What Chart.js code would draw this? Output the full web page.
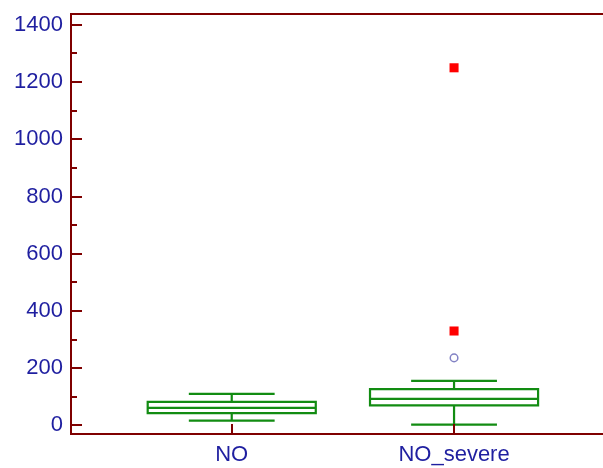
<!DOCTYPE html>
<html>
<head>
<meta charset="utf-8">
<script src="https://cdn.jsdelivr.net/npm/chart.js@4/dist/chart.umd.min.js"></script>
<style>
  html, body { margin: 0; padding: 0; background: #ffffff; overflow: hidden; }
  #wrap { width: 603px; height: 468px; }
</style>
</head>
<body>
<div id="wrap"><canvas id="c" width="603" height="468"></canvas></div>
<script>
// Groups and their box-and-whisker summaries
const categories = ['NO', 'NO_severe'];
const lowerWhisker = [17, 3];
const q1 = [43, 70];
const median = [61, 93];
const q3 = [82, 127];
const upperWhisker = [110, 156];
// Outside values (hollow circles) and far-out values (filled squares)
const outsideValues = [[], [236]];
const farOutValues = [[], [330, 1250]];
// Axis tick values
const yMajorTicks = [0, 200, 400, 600, 800, 1000, 1200, 1400];
const yMinorTicks = [100, 300, 500, 700, 900, 1100, 1300];

const AXIS_COLOR = '#7f0000';
const LABEL_COLOR = '#1f1fa0';
const BOX_COLOR = '#128c12';
const BOX_HALF = 0.378;
const CAP_HALF = 0.193;

function toPoints(groups) {
  const pts = [];
  groups.forEach((vals, i) => vals.forEach(v => pts.push({ x: i + 1, y: v })));
  return pts;
}

const boxPlugin = {
  id: 'boxes',
  beforeDatasetsDraw(chart) {
    const { ctx, scales: { x, y } } = chart;
    ctx.save();
    ctx.strokeStyle = BOX_COLOR;
    ctx.lineWidth = 2.2;
    categories.forEach((_, i) => {
      const cx = x.getPixelForValue(i + 1);
      const bl = x.getPixelForValue(i + 1 - BOX_HALF);
      const br = x.getPixelForValue(i + 1 + BOX_HALF);
      const cl = x.getPixelForValue(i + 1 - CAP_HALF);
      const cr = x.getPixelForValue(i + 1 + CAP_HALF);
      const yLo = y.getPixelForValue(lowerWhisker[i]);
      const yQ1 = y.getPixelForValue(q1[i]);
      const yMed = y.getPixelForValue(median[i]);
      const yQ3 = y.getPixelForValue(q3[i]);
      const yHi = y.getPixelForValue(upperWhisker[i]);
      ctx.beginPath();
      // box
      ctx.rect(bl, yQ3, br - bl, yQ1 - yQ3);
      // median
      ctx.moveTo(bl, yMed); ctx.lineTo(br, yMed);
      // whiskers
      ctx.moveTo(cx, yQ3); ctx.lineTo(cx, yHi);
      ctx.moveTo(cx, yQ1); ctx.lineTo(cx, yLo);
      // caps
      ctx.moveTo(cl, yHi); ctx.lineTo(cr, yHi);
      ctx.moveTo(cl, yLo); ctx.lineTo(cr, yLo);
      ctx.stroke();
    });
    ctx.restore();
  },
  afterDraw(chart) {
    const { ctx, chartArea: a, scales: { x, y } } = chart;
    ctx.save();
    ctx.strokeStyle = AXIS_COLOR;
    ctx.lineWidth = 2;
    ctx.beginPath();
    // frame: left, top, bottom
    ctx.moveTo(a.right + 2, a.top); ctx.lineTo(a.left, a.top);
    ctx.lineTo(a.left, a.bottom); ctx.lineTo(a.right + 2, a.bottom);
    // inward ticks
    yMajorTicks.forEach(v => {
      const py = Math.round(y.getPixelForValue(v));
      ctx.moveTo(a.left, py); ctx.lineTo(a.left + 11, py);
    });
    yMinorTicks.forEach(v => {
      const py = Math.round(y.getPixelForValue(v));
      ctx.moveTo(a.left, py); ctx.lineTo(a.left + 6, py);
    });
    categories.forEach((_, i) => {
      const px = Math.round(x.getPixelForValue(i + 1));
      ctx.moveTo(px, a.bottom); ctx.lineTo(px, a.bottom - 10);
    });
    ctx.stroke();
    ctx.restore();
  }
};

const font = { family: '"Liberation Sans", Arial, sans-serif', size: 22 };

function noOverflow(s) {
  s.paddingTop = 0; s.paddingBottom = 0;
  s.paddingLeft = 0; s.paddingRight = 0;
}

new Chart(document.getElementById('c'), {
  type: 'scatter',
  data: {
    datasets: [
      {
        data: toPoints(farOutValues),
        pointStyle: 'rect',
        pointRadius: 6.4,
        pointHoverRadius: 6.4,
        backgroundColor: '#ff0000',
        borderColor: '#ff0000',
        borderWidth: 0
      },
      {
        data: toPoints(outsideValues),
        pointStyle: 'circle',
        pointRadius: 3.8,
        pointHoverRadius: 3.8,
        backgroundColor: 'rgba(0,0,0,0)',
        borderColor: '#8282c4',
        borderWidth: 1.5
      }
    ]
  },
  options: {
    responsive: false,
    animation: false,
    events: [],
    layout: { autoPadding: false, padding: { top: 14, left: 0, right: 0, bottom: 0 } },
    plugins: { legend: { display: false }, tooltip: { enabled: false } },
    scales: {
      x: {
        type: 'linear',
        min: 0.277,
        max: 2.67,
        grid: { display: false, drawTicks: false },
        border: { display: false },
        afterBuildTicks: s => { s.ticks = categories.map((_, i) => ({ value: i + 1 })); },
        afterFit: s => { s.height = 34; noOverflow(s); },
        ticks: {
          font: font,
          color: LABEL_COLOR,
          padding: 8,
          maxRotation: 0,
          autoSkip: false,
          callback: v => categories[v - 1]
        }
      },
      y: {
        type: 'linear',
        min: -30,
        max: 1438,
        grid: { display: false, drawTicks: false },
        border: { display: false },
        afterBuildTicks: s => { s.ticks = yMajorTicks.map(v => ({ value: v })); },
        afterFit: s => { s.width = 71; noOverflow(s); },
        ticks: {
          font: font,
          color: LABEL_COLOR,
          padding: 8,
          callback: v => String(v)
        }
      }
    }
  },
  plugins: [boxPlugin]
});
</script>
</body>
</html>
